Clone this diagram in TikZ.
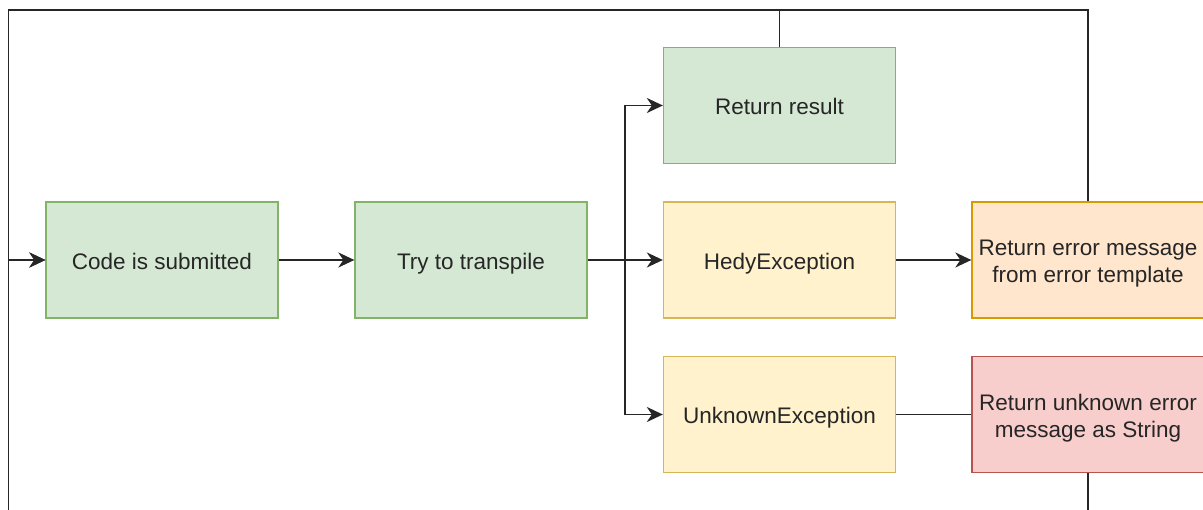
\documentclass[tikz,border=0pt]{standalone}
\usepackage{fontspec}
\setmainfont{Liberation Sans}
\usetikzlibrary{arrows.meta}
\definecolor{gfill}{HTML}{D5E8D4}\definecolor{gdraw}{HTML}{82B366}
\definecolor{yfill}{HTML}{FFF2CC}\definecolor{ydraw}{HTML}{D6B656}
\definecolor{ofill}{HTML}{FFE6CC}\definecolor{odraw}{HTML}{D79B00}
\definecolor{rfill}{HTML}{F8CECC}\definecolor{rdraw}{HTML}{B85450}
\newcommand\mytop{\rule{0pt}{27pt}}
\tikzset{
  box/.style={rectangle, minimum width=232pt, minimum height=116pt, line width=1.3pt, align=center, inner sep=0pt,
    font=\fontsize{22.5}{27}\selectfont, text=black!85},
  gbox/.style={box, fill=gfill, draw=gdraw},
  ybox/.style={box, fill=yfill, draw=ydraw},
  obox/.style={box, fill=ofill, draw=odraw},
  rbox/.style={box, fill=rfill, draw=rdraw},
  conn/.style={line width=1.8pt, draw=black!85},
  arr/.style={conn, -{Stealth[length=16pt, width=15pt, inset=5pt]}},
}
\begin{document}
\begin{tikzpicture}[x=1pt,y=-1pt]
\useasboundingbox (0,0) rectangle (1203,510);
\clip (0,0) rectangle (1203,510);
\node[gbox] (code) at (162,260) {\mytop Code is submitted\strut};
\node[gbox] (try) at (471,260) {\mytop Try to transpile\strut};
\node[gbox] (res) at (779.5,105.5) {\mytop Return result\strut};
\node[ybox] (hedy) at (779.5,260) {\mytop HedyException\strut};
\node[ybox] (unk) at (779.5,414.5) {\mytop UnknownException\strut};
\node[obox] (err) at (1088,260) {\mytop Return error message\\from error template\strut};
\node[rbox] (unkmsg) at (1088,414.5) {\mytop Return unknown error\\message as String\strut};
\coordinate (tl) at (8.5,10);
\coordinate (bl) at (8.5,560);
\coordinate (br) at (625,260);
\draw[arr] (code.east) -- (try.west);
\draw[arr] (try.east) -- (hedy.west);
\draw[arr] (br) |- (res.west);
\draw[arr] (br) |- (unk.west);
\draw[arr] (hedy.east) -- (err.west);
\draw[conn] (unk.east) -- (unkmsg.west);
\draw[arr] (res.north) -- (res.north |- tl) -- (tl) |- (code.west);
\draw[conn] (err.north) -- (err.north |- tl) -- (res.north |- tl);
\draw[arr] (unkmsg.south) -- (unkmsg.south |- bl) -- (bl) |- (code.west);
\end{tikzpicture}
\end{document}
